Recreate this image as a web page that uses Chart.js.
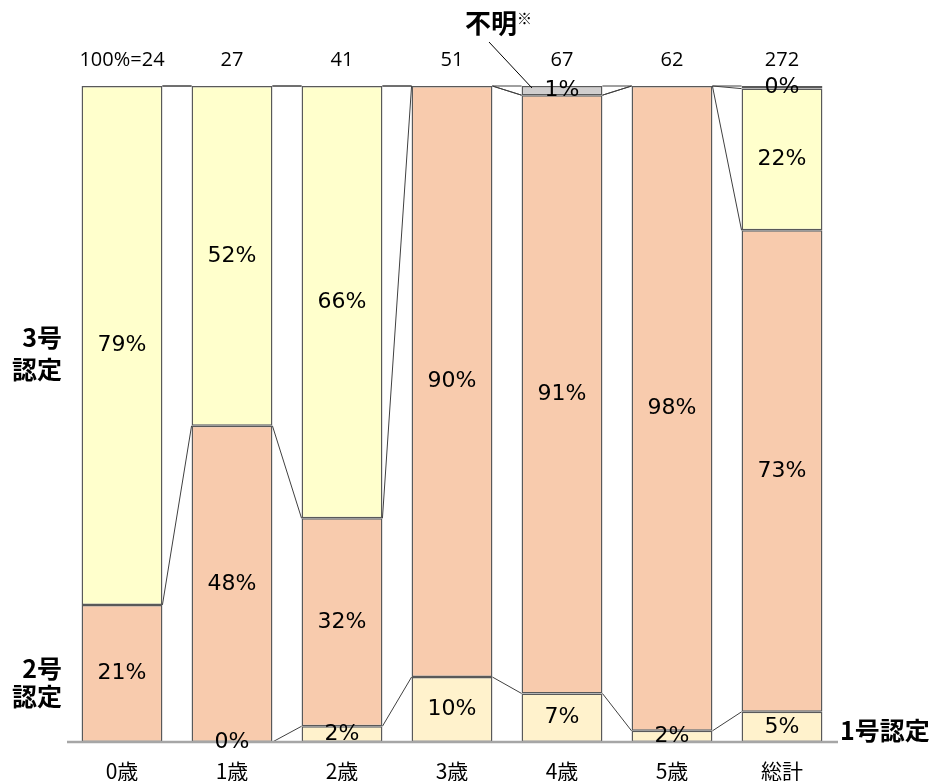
<!DOCTYPE html>
<html>
<head>
<meta charset="utf-8">
<script src="https://cdn.jsdelivr.net/npm/chart.js@4"></script>
<style>
body{margin:0;background:#fff}
#wrap{width:930px;height:781px;position:relative}
</style>
</head>
<body>
<div id="wrap"><canvas id="myChart" width="930" height="781"></canvas></div>
<script>
// categories and totals (100%=n)
var ages = ["0歳","1歳","2歳","3歳","4歳","5歳","総計"];
var totals = ["100%=24","27","41","51","67","62","272"];

// shares in % per certification type (null = no segment)
var type1 = [null,0,2.4,9.9,7.4,1.7,4.6];        // 1号認定
var type2 = [20.9,48.2,31.7,90.1,91.2,98.3,73.4]; // 2号認定
var type3 = [79.1,51.8,65.9,null,null,null,21.6]; // 3号認定
var unknown = [null,null,null,null,1.4,null,0.4]; // 不明

var series = [type1,type2,type3,unknown];
var colors = ["#FFF2CC","#F8CBAD","#FFFFCC","#D0CECE"];
var names = ["1号認定","2号認定","3号認定","不明"];

var overlay = {
  id: 'overlay',
  afterDatasetsDraw: function(chart){
    var ctx = chart.ctx;
    var xs = chart.scales.x, ys = chart.scales.y;
    var half = chart.getDatasetMeta(1).data[0].width/2;

    ctx.save();
    // connector lines between bars
    ctx.strokeStyle = '#404040';
    ctx.lineWidth = 1;
    for (var j=0;j<ages.length-1;j++){
      var ca=0, cb=0;
      for (var k=0;k<series.length;k++){
        ca += series[k][j]||0;
        cb += series[k][j+1]||0;
        if (ca===0 && cb===0) continue;
        ctx.beginPath();
        ctx.moveTo(xs.getPixelForValue(j)+half, ys.getPixelForValue(ca));
        ctx.lineTo(xs.getPixelForValue(j+1)-half, ys.getPixelForValue(cb));
        ctx.stroke();
      }
    }

    // axis line
    ctx.strokeStyle = '#A6A6A6';
    ctx.lineWidth = 2.5;
    ctx.beginPath();
    ctx.moveTo(67, ys.getPixelForValue(0));
    ctx.lineTo(838, ys.getPixelForValue(0));
    ctx.stroke();

    // value labels
    ctx.fillStyle = '#000';
    ctx.textAlign = 'center';
    ctx.textBaseline = 'middle';
    ctx.font = '22px "DejaVu Sans"';
    for (var j2=0;j2<ages.length;j2++){
      var cum=0;
      for (var k2=0;k2<series.length;k2++){
        var v = series[k2][j2];
        if (v===null) continue;
        ctx.fillText(Math.round(v)+'%', xs.getPixelForValue(j2), ys.getPixelForValue(cum+v/2));
        cum += v;
      }
    }

    // category labels and totals
    ctx.font = '21px "Noto Sans CJK JP"';
    ages.forEach(function(a,i){ ctx.fillText(a, xs.getPixelForValue(i), 771); });
    ctx.font = '20px "Open Sans"';
    totals.forEach(function(t,i){ ctx.fillText(t, xs.getPixelForValue(i), 60); });

    // side labels
    ctx.font = 'bold 25px "Noto Sans CJK JP"';
    ctx.textAlign = 'right';
    ctx.fillText('3号', 62, 337);
    ctx.fillText('認定', 62, 369);
    ctx.fillText('2号', 62, 668);
    ctx.fillText('認定', 62, 696);
    ctx.textAlign = 'left';
    ctx.fillText('1号認定', 840, 730);
    ctx.font = 'bold 26px "Noto Sans CJK JP"';
    ctx.fillText('不明', 465, 23);
    ctx.font = '15px "Noto Sans CJK JP"';
    ctx.fillText('※', 517, 18);

    // pointer to 不明
    ctx.strokeStyle = '#000';
    ctx.lineWidth = 1;
    ctx.beginPath();
    ctx.moveTo(489, 42);
    ctx.lineTo(532, 88);
    ctx.stroke();
    ctx.restore();
  }
};

var ctx = document.getElementById('myChart').getContext('2d');
var chart = new Chart(ctx, {
  type: 'bar',
  data: {
    labels: ages,
    datasets: series.map(function(s,i){
      return {
        label: names[i],
        data: s,
        backgroundColor: colors[i],
        borderColor: '#595959',
        borderWidth: 1.5,
        borderSkipped: false,
        categoryPercentage: 1,
        barPercentage: 0.735
      };
    })
  },
  options: {
    responsive: false,
    animation: false,
    layout: { padding: { left: 67, right: 93, top: 86, bottom: 39 } },
    plugins: { legend: { display: false }, tooltip: { enabled: false } },
    scales: {
      x: { stacked: true, display: false },
      y: { stacked: true, display: false, min: 0, max: 100 }
    }
  },
  plugins: [overlay]
});
</script>
</body>
</html>
